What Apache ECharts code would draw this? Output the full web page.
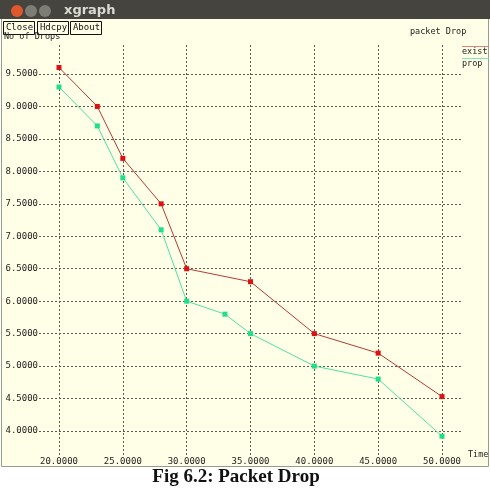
<!DOCTYPE html>
<html>
<head>
<meta charset="utf-8">
<script src="https://cdn.jsdelivr.net/npm/echarts@6/dist/echarts.min.js"></script>
<style>
  html, body { margin: 0; padding: 0; background: #fff; }
  #chart { width: 490px; height: 492px; }
</style>
</head>
<body>
<div id="chart"></div>
<script>
// data
const existX = [20, 23, 25, 28, 30, 35, 40, 45, 50]
const existY = [9.6, 9.0, 8.2, 7.5, 6.5, 6.3, 5.5, 5.2, 4.53]
const propX = [20, 23, 25, 28, 30, 33, 35, 40, 45, 50]
const propY = [9.3, 8.7, 7.9, 7.1, 6.0, 5.8, 5.5, 5.0, 4.8, 3.92]

const monoFont = '"DejaVu Sans Mono", monospace'
const gridLine = { show: true, lineStyle: { color: '#5a5a50', type: [2, 2], width: 1 } }

const chart = echarts.init(document.getElementById('chart'))

const zip = (xs, ys) => xs.map((x, i) => [x, ys[i]])

chart.setOption({
  backgroundColor: '#ffffff',
  animation: false,
  grid: [
    // vertical grid lines + x labels
    { left: 59, right: 48, top: 45, bottom: 37 },
    // horizontal grid lines + y labels
    { left: 39, right: 29, top: 74, bottom: 61 },
    // data
    { left: 59, right: 48, top: 74, bottom: 61 },
  ],
  xAxis: [
    {
      gridIndex: 0, type: 'value', min: 20, max: 50, interval: 5,
      axisLine: { show: false }, axisTick: { show: false },
      splitLine: gridLine,
      axisLabel: {
        margin: 2, fontFamily: monoFont, fontSize: 9, color: '#222',
        formatter: v => v.toFixed(4),
      },
    },
    { gridIndex: 1, type: 'value', show: false, min: 0, max: 1 },
    { gridIndex: 2, type: 'value', show: false, min: 20, max: 50 },
  ],
  yAxis: [
    { gridIndex: 0, type: 'value', show: false, min: 0, max: 1 },
    {
      gridIndex: 1, type: 'value', min: 4, max: 9.5, interval: 0.5,
      axisLine: { show: false }, axisTick: { show: false },
      splitLine: gridLine,
      axisLabel: {
        margin: 1, fontFamily: monoFont, fontSize: 9, color: '#222',
        formatter: v => v.toFixed(4),
      },
    },
    { gridIndex: 2, type: 'value', show: false, min: 4, max: 9.5 },
  ],
  series: [
    {
      name: 'exist', type: 'line', xAxisIndex: 2, yAxisIndex: 2,
      data: zip(existX, existY), clip: false,
      symbol: 'rect', symbolSize: 5, showAllSymbol: true,
      lineStyle: { color: '#b83a3a', width: 1 },
      itemStyle: { color: '#dd1111' },
      z: 5,
    },
    {
      name: 'prop', type: 'line', xAxisIndex: 2, yAxisIndex: 2,
      data: zip(propX, propY), clip: false,
      symbol: 'rect', symbolSize: 5, showAllSymbol: true,
      lineStyle: { color: '#4de3a6', width: 1 },
      itemStyle: { color: '#1fdf8a' },
      z: 4,
    },
  ],
  graphic: [
    // window body
    { type: 'rect', shape: { x: 1.5, y: 18.5, width: 487, height: 448 },
      style: { fill: '#fffee6', stroke: '#9a9a90', lineWidth: 1 }, z: -10 },
    // title bar
    { type: 'rect', shape: { x: 0, y: 0, width: 490, height: 19 },
      style: { fill: '#45443e' }, z: -5 },
    { type: 'circle', shape: { cx: 17, cy: 11, r: 6 }, style: { fill: '#e0572c' }, z: -4 },
    { type: 'circle', shape: { cx: 31, cy: 11, r: 6 }, style: { fill: '#7d7c75' }, z: -4 },
    { type: 'circle', shape: { cx: 45, cy: 11, r: 6 }, style: { fill: '#7d7c75' }, z: -4 },
    { type: 'text', x: 64, y: 4, z: -4,
      style: { text: 'xgraph', fill: '#dcdad2', font: 'bold 13px "DejaVu Sans"' } },
    // y axis title, half hidden behind buttons
    { type: 'text', x: 4, y: 32, z: 1,
      style: { text: 'No of Drops', fill: '#222', font: '8.5px ' + monoFont } },
    // buttons
    ...[['Close', 3, 31], ['Hdcpy', 37, 31], ['About', 70, 31]].map(([t, x, w]) => ({
      type: 'group', z: 2, children: [
        { type: 'rect', shape: { x: x + 0.5, y: 21.5, width: w, height: 13 },
          style: { fill: '#fffee6', stroke: '#111', lineWidth: 1 } },
        { type: 'text', x: x + 1 + w / 2, y: 28,
          style: { text: t, fill: '#111', font: '9px ' + monoFont,
            align: 'center', verticalAlign: 'middle' } },
      ],
    })),
    // plot title
    { type: 'text', x: 410, y: 27,
      style: { text: 'packet Drop', fill: '#222', font: '8.5px ' + monoFont } },
    // legend
    { type: 'line', shape: { x1: 462, y1: 46.5, x2: 489, y2: 46.5 },
      style: { stroke: '#e08080', lineWidth: 1 } },
    { type: 'text', x: 462, y: 47,
      style: { text: 'exist', fill: '#222', font: '8.5px ' + monoFont } },
    { type: 'line', shape: { x1: 462, y1: 58.5, x2: 489, y2: 58.5 },
      style: { stroke: '#7fe8c0', lineWidth: 1 } },
    { type: 'text', x: 462, y: 59,
      style: { text: 'prop', fill: '#222', font: '8.5px ' + monoFont } },
    // x axis title
    { type: 'text', x: 468, y: 450,
      style: { text: 'Time', fill: '#222', font: '8.5px ' + monoFont } },
    // caption
    { type: 'text', x: 236, y: 477,
      style: { text: 'Fig 6.2: Packet Drop', fill: '#111',
        font: 'bold 19px "Liberation Serif"', align: 'center', verticalAlign: 'middle' } },
  ],
})
</script>
</body>
</html>
